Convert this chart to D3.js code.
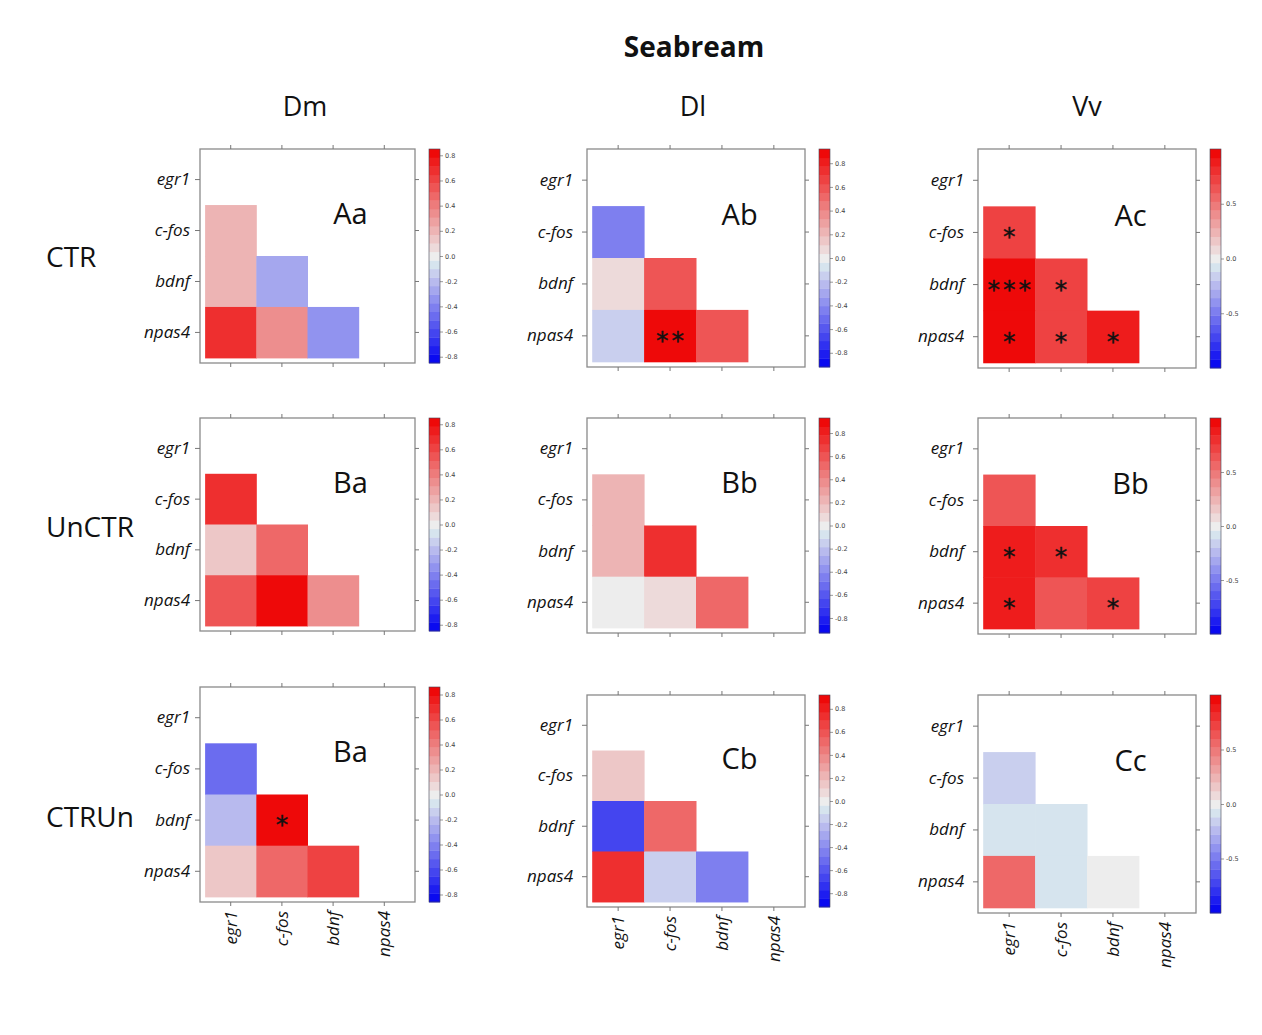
<!DOCTYPE html>
<html>
<head>
<meta charset="utf-8">
<script src="https://cdn.jsdelivr.net/npm/d3@7"></script>
<style>
  body { margin: 0; background: #fff; }
  svg { display: block; }
</style>
</head>
<body>
<svg id="chart" width="1262" height="1035"></svg>
<script>
// ---- data ---------------------------------------------------------------
const genes = ["egr1", "c-fos", "bdnf", "npas4"];
const regions = ["Dm", "Dl", "Vv"];
const conditions = ["CTR", "UnCTR", "CTRUn"];
const panelTags = [["Aa", "Ab", "Ac"], ["Ba", "Bb", "Bb"], ["Ba", "Cb", "Cc"]];

// lower-triangle gene pairs: [row gene, column gene]
const pairs = [
  ["c-fos", "egr1"], ["bdnf", "egr1"], ["bdnf", "c-fos"],
  ["npas4", "egr1"], ["npas4", "c-fos"], ["npas4", "bdnf"]
];

// Pearson r per region (Dm, Dl, Vv), in the order of `pairs`
const rCTR = [
  [0.17, 0.17, -0.30, 0.68, 0.35, -0.36],
  [-0.43, 0.08, 0.61, -0.13, 0.90, 0.58],
  [0.70, 0.97, 0.71, 0.92, 0.73, 0.85]
];
const rUnCTR = [
  [0.65, 0.15, 0.47, 0.54, 0.82, 0.33],
  [0.19, 0.19, 0.74, 0.00, 0.08, 0.49],
  [0.63, 0.86, 0.76, 0.86, 0.61, 0.75]
];
const rCTRUn = [
  [-0.50, -0.21, 0.84, 0.16, 0.45, 0.65],
  [0.18, -0.64, 0.53, 0.72, -0.13, -0.42],
  [-0.19, -0.05, -0.05, 0.53, -0.05, 0.00]
];

// significance marks, same order
const sigCTR = [
  ["", "", "", "", "", ""],
  ["", "", "", "", "**", ""],
  ["*", "***", "*", "*", "*", "*"]
];
const sigUnCTR = [
  ["", "", "", "", "", ""],
  ["", "", "", "", "", ""],
  ["", "*", "*", "*", "", "*"]
];
const sigCTRUn = [
  ["", "", "*", "", "", ""],
  ["", "", "", "", "", ""],
  ["", "", "", "", "", ""]
];

// colour-key range (± limit) for each panel
const colorLimits = [
  [0.85, 0.92, 1.0],
  [0.85, 0.93, 1.0],
  [0.86, 0.92, 1.0]
];
const keyTicksFine = [-0.8, -0.6, -0.4, -0.2, 0.0, 0.2, 0.4, 0.6, 0.8];
const keyTicksCoarse = [-0.5, 0.0, 0.5];

const rValues = [rCTR, rUnCTR, rCTRUn];
const sigValues = [sigCTR, sigUnCTR, sigCTRUn];

// ---- layout -------------------------------------------------------------
const colX = [200, 587, 978];
const colW = [215, 218, 218];
const rowY = [[149, 149, 149], [418, 418, 418], [687, 695, 695]];
const rowH = [[214, 218, 219], [213, 215, 216], [215, 212, 218]];
const labelPad = [5, 9, 9];
const nBands = 25;
const starSpacing = 3;
const FONT = "'Open Sans', 'Noto Sans', sans-serif";

const palette = d3.scaleLinear()
  .domain([-1, -0.2, -0.08, 0, 1])
  .range(["#0000f0", "#c2c4ee", "#d6e4ee", "#ededed", "#ee0000"])
  .interpolate(d3.interpolateRgb);

const bandColor = (k) => palette(((k + 0.5) / nBands) * 2 - 1);
const cellColor = (v, lim) => {
  const k = Math.max(0, Math.min(nBands - 1, Math.floor((v + lim) / (2 * lim) * nBands)));
  return bandColor(k);
};
const fmt = (v) => (Math.abs(v) < 1e-9 ? "0.0" : v.toFixed(1));

const svg = d3.select("#chart");
svg.append("rect").attr("width", 1262).attr("height", 1035).attr("fill", "#fff");

// ---- headings -----------------------------------------------------------
svg.append("text")
  .attr("x", 694).attr("y", 57)
  .attr("text-anchor", "middle")
  .style("font-family", FONT).style("font-weight", 700).style("font-size", "28px")
  .attr("fill", "#111")
  .text("Seabream");

const headerX = [305, 693, 1087];
regions.forEach((r, j) => {
  svg.append("text")
    .attr("x", headerX[j]).attr("y", 116)
    .attr("text-anchor", "middle")
    .style("font-family", FONT).style("font-size", "27px")
    .attr("fill", "#111")
    .text(r);
});

const rowLabelY = [267, 537, 827];
conditions.forEach((c, i) => {
  svg.append("text")
    .attr("x", 46).attr("y", rowLabelY[i])
    .style("font-family", FONT).style("font-size", "28px")
    .attr("fill", "#111")
    .text(c);
});

// ---- panels -------------------------------------------------------------
function styleAxis(sel) {
  sel.select(".domain").remove();
  sel.selectAll(".tick line").attr("stroke", "#777").attr("stroke-width", 1);
}

conditions.forEach((cond, i) => {
  regions.forEach((reg, j) => {
    const box = { x: colX[j], y: rowY[i][j], w: colW[j], h: rowH[i][j] };
    const lim = colorLimits[i][j];
    const x = d3.scaleBand().domain(genes).range([box.x, box.x + box.w])
      .paddingInner(0).paddingOuter(0.1);
    const y = d3.scaleBand().domain(genes).range([box.y, box.y + box.h])
      .paddingInner(0).paddingOuter(0.1);
    const g = svg.append("g").attr("class", "panel");

    const cells = pairs.map((p, k) => ({
      row: p[0], col: p[1], r: rValues[i][j][k], sig: sigValues[i][j][k]
    }));

    g.selectAll("rect.cell").data(cells).join("rect")
      .attr("class", "cell")
      .attr("x", d => x(d.col)).attr("y", d => y(d.row))
      .attr("width", x.bandwidth() + 0.5).attr("height", y.bandwidth() + 0.5)
      .attr("fill", d => cellColor(d.r, lim));

    g.selectAll("text.sig").data(cells.filter(d => d.sig)).join("text")
      .attr("class", "sig")
      .attr("x", d => x(d.col) + x.bandwidth() / 2 + starSpacing / 2)
      .attr("y", d => y(d.row) + y.bandwidth() / 2)
      .attr("dy", "0.52em")
      .attr("text-anchor", "middle")
      .style("font-family", "'DejaVu Sans', sans-serif").style("font-size", "25px")
      .style("letter-spacing", starSpacing + "px")
      .attr("fill", "#111").attr("stroke", "#111").attr("stroke-width", 0.4)
      .text(d => d.sig);

    // frame
    g.append("rect")
      .attr("x", box.x).attr("y", box.y).attr("width", box.w).attr("height", box.h)
      .attr("fill", "none").attr("stroke", "#8a8a8a").attr("stroke-width", 1.3);

    // axes
    const left = g.append("g").attr("transform", `translate(${box.x},0)`)
      .call(d3.axisLeft(y).tickSize(5).tickSizeOuter(0).tickPadding(labelPad[j]));
    styleAxis(left);
    left.selectAll(".tick text")
      .style("font-family", FONT).style("font-style", "italic").style("font-size", "17px")
      .attr("fill", "#111");

    const top = g.append("g").attr("transform", `translate(0,${box.y})`)
      .call(d3.axisTop(x).tickSize(4).tickSizeOuter(0).tickFormat(""));
    styleAxis(top);
    const right = g.append("g").attr("transform", `translate(${box.x + box.w},0)`)
      .call(d3.axisRight(y).tickSize(4).tickSizeOuter(0).tickFormat(""));
    styleAxis(right);

    const bottom = g.append("g").attr("transform", `translate(0,${box.y + box.h})`)
      .call(d3.axisBottom(x).tickSize(4).tickSizeOuter(0)
        .tickFormat(i === 2 ? (d => d) : ""));
    styleAxis(bottom);
    if (i === 2) {
      bottom.selectAll(".tick text")
        .attr("transform", "rotate(-90)")
        .attr("x", -9).attr("y", 0).attr("dy", "0.35em")
        .style("text-anchor", "end")
        .style("font-family", FONT).style("font-style", "italic").style("font-size", "17px")
        .attr("fill", "#111");
    }

    // panel tag
    g.append("text")
      .attr("x", box.x + 0.7 * box.w).attr("y", box.y + 0.35 * box.h)
      .attr("text-anchor", "middle")
      .style("font-family", FONT).style("font-size", "29px")
      .attr("fill", "#111")
      .text(panelTags[i][j]);

    // colour key
    const kx = box.x + box.w + 14, kw = 11;
    const ks = d3.scaleLinear().domain([-lim, lim]).range([box.y + box.h, box.y]);
    const bands = d3.range(nBands).map(k => ({
      k, v0: -lim + (2 * lim * k) / nBands, v1: -lim + (2 * lim * (k + 1)) / nBands
    }));
    g.selectAll("rect.band").data(bands).join("rect")
      .attr("class", "band")
      .attr("x", kx).attr("width", kw)
      .attr("y", d => ks(d.v1)).attr("height", d => ks(d.v0) - ks(d.v1) + 0.4)
      .attr("fill", d => bandColor(d.k));
    g.append("rect")
      .attr("x", kx).attr("y", box.y).attr("width", kw).attr("height", box.h)
      .attr("fill", "none").attr("stroke", "#445").attr("stroke-width", 0.6);
    const keyAxis = g.append("g").attr("transform", `translate(${kx + kw},0)`)
      .call(d3.axisRight(ks).tickValues(j === 2 ? keyTicksCoarse : keyTicksFine)
        .tickSize(3).tickSizeOuter(0).tickPadding(2).tickFormat(fmt));
    styleAxis(keyAxis);
    keyAxis.selectAll(".tick line").attr("stroke", "#555").attr("stroke-width", 0.6);
    keyAxis.selectAll(".tick text")
      .style("font-family", "'DejaVu Sans', sans-serif").style("font-size", "6.5px")
      .attr("fill", "#444");
  });
});
</script>
</body>
</html>
